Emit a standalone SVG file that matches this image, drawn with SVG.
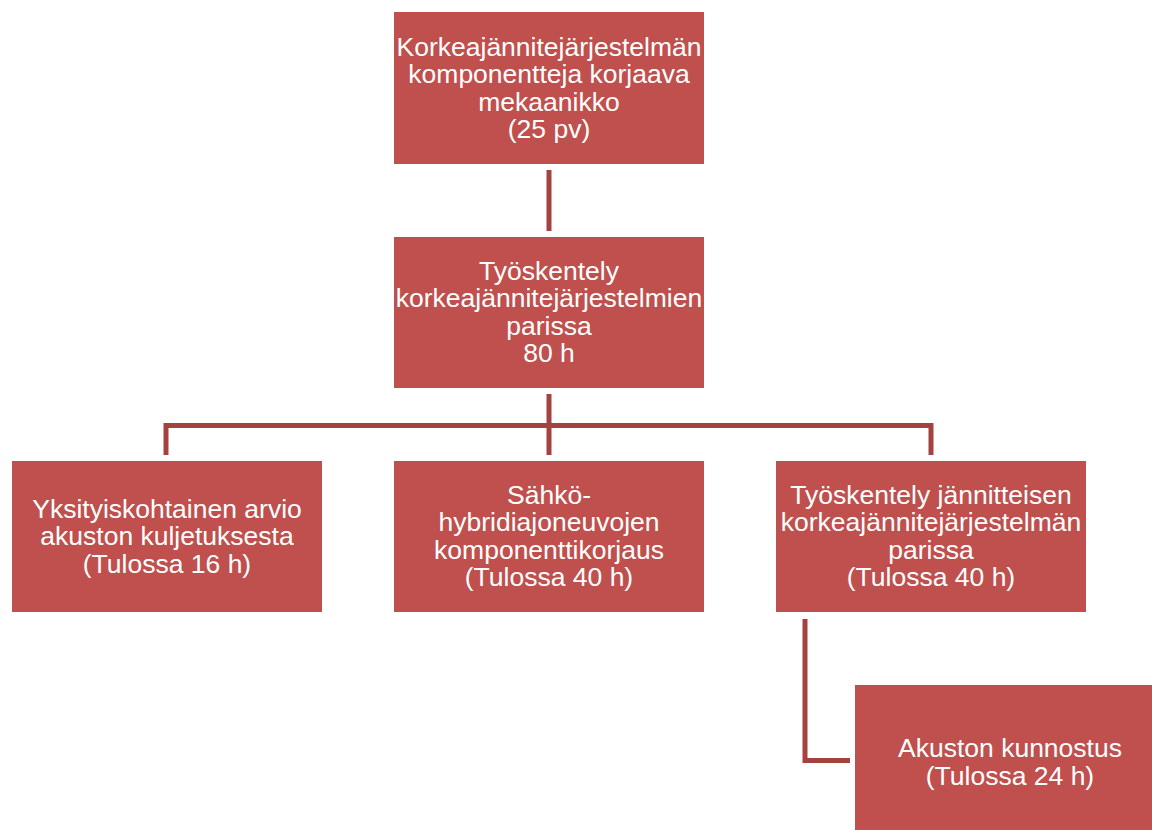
<svg xmlns="http://www.w3.org/2000/svg" width="1152" height="830" viewBox="0 0 1152 830">
<style>
.box{fill:#C0504D;}
.t{font-family:"Liberation Sans",Arial,sans-serif;font-size:26.5px;fill:#FFFFFF;text-anchor:middle;}
.c{fill:none;stroke:#A5423F;stroke-width:5;stroke-linejoin:miter;}
</style>
<rect width="1152" height="830" fill="#FFFFFF"/>
<g id="connectors">
<path class="c" d="M549,170 V231"/>
<path class="c" d="M549,394 V455"/>
<path class="c" d="M166,455 V425.5 H931 V455"/>
<path class="c" d="M805,619 V760.5 H850"/>
</g>
<g id="n1">
<rect class="box" x="394" y="12" width="310" height="152"/>
<text class="t" x="549" y="55.5">Korkeajännitejärjestelmän<tspan x="549" dy="27.5">komponentteja korjaava</tspan><tspan x="549" dy="27.5">mekaanikko</tspan><tspan x="549" dy="27.5">(25 pv)</tspan></text>
</g>
<g id="n2">
<rect class="box" x="394" y="237" width="310" height="151"/>
<text class="t" x="549" y="279.5">Työskentely<tspan x="549" dy="27.5">korkeajännitejärjestelmien</tspan><tspan x="549" dy="27.5">parissa</tspan><tspan x="549" dy="27.5">80 h</tspan></text>
</g>
<g id="n3">
<rect class="box" x="12" y="461" width="310" height="151"/>
<text class="t" x="167" y="517.5">Yksityiskohtainen arvio<tspan x="167" dy="27.5">akuston kuljetuksesta</tspan><tspan x="167" dy="27.5">(Tulossa 16 h)</tspan></text>
</g>
<g id="n4">
<rect class="box" x="394" y="461" width="310" height="151"/>
<text class="t" x="549" y="503.5">Sähkö-<tspan x="549" dy="27.5">hybridiajoneuvojen</tspan><tspan x="549" dy="27.5">komponenttikorjaus</tspan><tspan x="549" dy="27.5">(Tulossa 40 h)</tspan></text>
</g>
<g id="n5">
<rect class="box" x="776" y="461" width="310" height="151"/>
<text class="t" x="931" y="503.5">Työskentely jännitteisen<tspan x="931" dy="27.5">korkeajännitejärjestelmän</tspan><tspan x="931" dy="27.5">parissa</tspan><tspan x="931" dy="27.5">(Tulossa 40 h)</tspan></text>
</g>
<g id="n6">
<rect class="box" x="855" y="685" width="310" height="154"/>
<text class="t" x="1010" y="757">Akuston kunnostus<tspan x="1010" dy="27.5">(Tulossa 24 h)</tspan></text>
</g>
</svg>
